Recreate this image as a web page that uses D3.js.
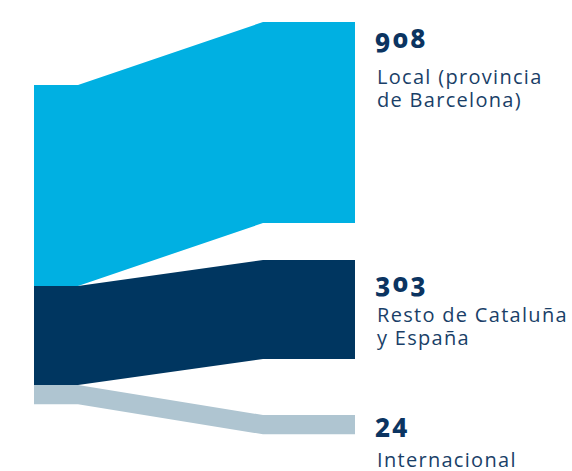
<!DOCTYPE html>
<html>
<head>
<meta charset="utf-8">
<script src="https://cdn.jsdelivr.net/npm/d3@7"></script>
<style>
  html, body { margin: 0; padding: 0; background: #ffffff; }
  svg { display: block; }
</style>
</head>
<body>
<svg id="chart" width="572" height="471"></svg>
<script>
// ---- data ----
const categories = ["Local", "Resto", "Internacional"];
const values = [908, 303, 24];
const valueLabels = ["908", "303", "24"];
const labelLines = [
  ["Local (provincia", "de Barcelona)"],
  ["Resto de Cataluña", "y España"],
  ["Internacional"]
];
const colors = ["#00b0e2", "#003660", "#afc5d1"];

// ---- layout ----
const W = 572, H = 471;
const leftX0 = 34, leftX1 = 78, rightX0 = 263, rightX1 = 355;
const leftTop = 85;
const rightTop = 22;
const rightGaps = [37, 56];
const numberDy = [26, 32, 22];     // number baseline below node top
const labelDy = [36, 30, 30];      // first label line below number baseline
const numberFigures = ["oldstyle-nums", "oldstyle-nums", "lining-nums"];
const lineH = 22.5;
const textX = 376;

const svg = d3.select("#chart");

// band thickness scale (designer's compressed scale)
const h = d3.scalePow().exponent(0.645).domain([0, d3.max(values)]).range([0, 201]);

const heights = values.map(v => h(v));
const leftY = [];
let acc = leftTop;
heights.forEach(hh => { leftY.push(acc); acc += hh; });
const rightY = [];
acc = rightTop;
heights.forEach((hh, i) => { rightY.push(acc); acc += hh + (i < rightGaps.length ? rightGaps[i] : 0); });

const flows = categories.map((c, i) => ({
  cat: c, value: values[i], color: colors[i],
  l0: leftY[i], l1: leftY[i] + heights[i],
  r0: rightY[i], r1: rightY[i] + heights[i]
}));

const line = d3.line();
svg.append("g").selectAll("path")
  .data(flows)
  .join("path")
  .attr("d", d => line([
    [leftX0, d.l0], [leftX1, d.l0], [rightX0, d.r0], [rightX1, d.r0],
    [rightX1, d.r1], [rightX0, d.r1], [leftX1, d.l1], [leftX0, d.l1]
  ]) + "Z")
  .attr("fill", d => d.color);

// labels
const lg = svg.append("g");
flows.forEach((d, i) => {
  const nb = d.r0 + numberDy[i];
  lg.append("text")
    .attr("x", textX - 1).attr("y", nb)
    .attr("font-family", "'Noto Sans', 'Open Sans', sans-serif")
    .attr("font-weight", 800)
    .attr("font-size", 26)
    .attr("letter-spacing", 2.2)
    .style("font-variant-numeric", numberFigures[i])
    .attr("fill", "#0b3461")
    .text(valueLabels[i]);
  const t = lg.append("text")
    .attr("x", textX + 1).attr("y", nb + labelDy[i])
    .attr("font-family", "'Open Sans', sans-serif")
    .attr("font-size", 20)
    .attr("letter-spacing", 1.3)
    .attr("fill", "#1a3f68");
  labelLines[i].forEach((s, j) => {
    t.append("tspan")
      .attr("x", textX + 1)
      .attr("dy", j === 0 ? 0 : lineH)
      .text(s);
  });
});
</script>
</body>
</html>
